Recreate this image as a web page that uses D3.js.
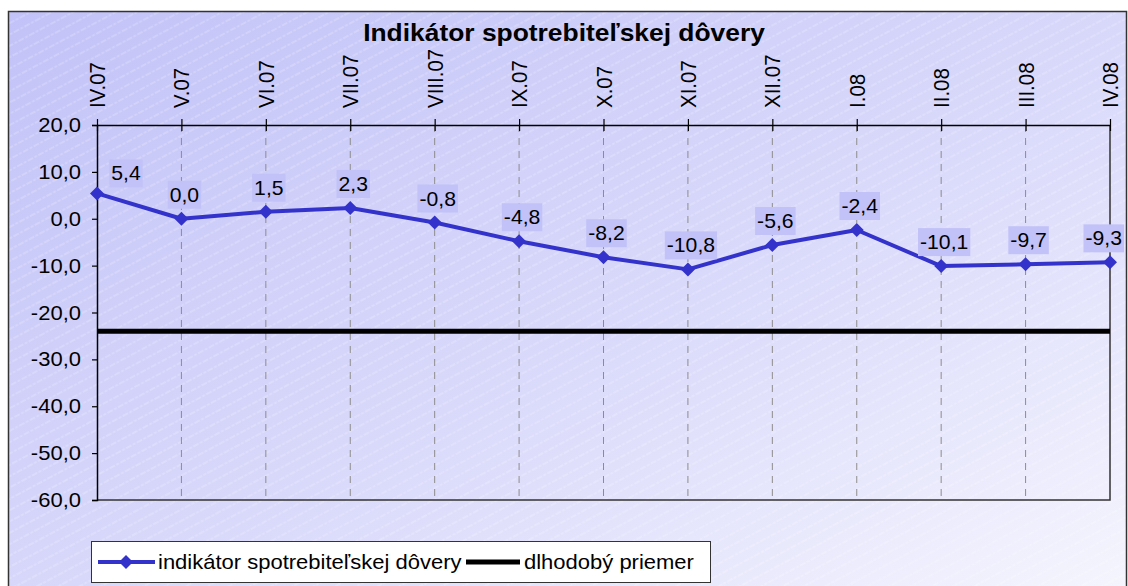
<!DOCTYPE html>
<html><head><meta charset="utf-8">
<script src="https://cdn.jsdelivr.net/npm/d3@7"></script>
<style>html,body{margin:0;padding:0;background:#fff;}svg{display:block;}</style>
</head><body>
<svg id="c" width="1128" height="586"></svg>
<script>
const categories = ["IV.07","V.07","VI.07","VII.07","VIII.07","IX.07","X.07","XI.07","XII.07","I.08","II.08","III.08","IV.08"];
const indicatorValues = [5.4, 0.0, 1.5, 2.3, -0.8, -4.8, -8.2, -10.8, -5.6, -2.4, -10.1, -9.7, -9.3];
const longTermMean = -24.0;
const yTicks = [20, 10, 0, -10, -20, -30, -40, -50, -60];
const title = "Indikátor spotrebiteľskej dôvery";
const seriesNames = ["indikátor spotrebiteľskej dôvery", "dlhodobý priemer"];

const FONT = "'Liberation Sans', Arial, sans-serif";
const SX = 1.1;
const fmt = v => v.toFixed(1).replace(".", ",");
const svg = d3.select("#c");
const defs = svg.append("defs");

function stext(parent, xx, yy, str, size, anchor, weight, sx) {
  const g = parent.append("g").attr("transform", `translate(${xx},${yy}) scale(${sx||SX},1)`);
  return g.append("text").attr("x",0).attr("y",0).attr("text-anchor",anchor||"start")
    .attr("font-family",FONT).attr("font-size",size).attr("font-weight",weight||"normal")
    .attr("fill","#000").text(str);
}

const grad = defs.append("linearGradient").attr("id","bg").attr("x1","0").attr("y1","0").attr("x2","1").attr("y2","1");
grad.append("stop").attr("offset","0").attr("stop-color","#c2c2f8");
grad.append("stop").attr("offset","0.55").attr("stop-color","#dadafb");
grad.append("stop").attr("offset","1").attr("stop-color","#f6f6fe");

const pat = defs.append("pattern").attr("id","hatch").attr("patternUnits","userSpaceOnUse")
  .attr("width",12).attr("height",10).attr("patternTransform","rotate(-28)");
pat.append("line").attr("x1",0).attr("y1",5).attr("x2",12).attr("y2",5)
  .attr("stroke","#ffffff").attr("stroke-opacity",0.45).attr("stroke-width",0.8).attr("stroke-dasharray","3,1.5");

// frame
svg.append("rect").attr("x",8.5).attr("y",11.5).attr("width",1118).attr("height",600).attr("fill","url(#bg)");
svg.append("rect").attr("x",8.5).attr("y",11.5).attr("width",1118).attr("height",600).attr("fill","url(#hatch)")
  .attr("stroke","#333").attr("stroke-width",1.5);

// title
stext(svg, 564, 41, title, 24, "middle", "bold");

const x = d3.scalePoint().domain(categories).range([97,1110]);
const y = d3.scaleLinear().domain([-60,20]).range([500,125]);

// gridlines
svg.append("g").selectAll("line").data(categories.slice(1,-1)).join("line")
  .attr("x1",d=>x(d)).attr("x2",d=>x(d)).attr("y1",y(20)).attr("y2",y(-60))
  .attr("stroke","#8c8c8c").attr("stroke-width",1).attr("stroke-dasharray","7,6");

// plot border (right, bottom)
svg.append("path").attr("d",`M${x(categories[categories.length-1])},${y(20)}V${y(-60)}H${x(categories[0])}`)
  .attr("fill","none").attr("stroke","#333").attr("stroke-width",1.5);

// y axis
const yAxis = d3.axisLeft(y).tickValues(yTicks).tickFormat("").tickSize(5);
const gy = svg.append("g").attr("transform",`translate(${x(categories[0])},0)`).call(yAxis);
gy.select(".domain").attr("stroke","#000").attr("stroke-width",1.5);
gy.selectAll(".tick line").attr("stroke","#000").attr("stroke-width",1.2);
const gyl = svg.append("g");
yTicks.forEach(v => stext(gyl, 81, y(v), fmt(v), 20, "end").attr("dy","0.35em"));

// x axis (top)
const xAxis = d3.axisTop(x).tickSizeInner(6).tickSizeOuter(0).tickFormat("");
const gx = svg.append("g").attr("transform",`translate(0,${y(20)})`).call(xAxis);
gx.select(".domain").attr("stroke","#000").attr("stroke-width",1.5);
gx.selectAll(".tick line").attr("stroke","#000").attr("stroke-width",1.2).attr("y1",6).attr("y2",-6);
svg.append("g").selectAll("g").data(categories).join("g")
  .attr("transform",d=>`translate(${x(d)},108) rotate(-90) scale(1,1.12)`)
  .append("text").attr("dy","0.35em").attr("text-anchor","start")
  .attr("font-family",FONT).attr("font-size",20.5).text(d=>d);

// long-term mean
svg.append("line").attr("x1",x(categories[0])).attr("x2",x(categories[categories.length-1]))
  .attr("y1",y(longTermMean)).attr("y2",y(longTermMean)).attr("stroke","#000").attr("stroke-width",5);

// series line
const pts = categories.map((c,i)=>({c, v: indicatorValues[i], i}));
svg.append("path").datum(pts).attr("fill","none").attr("stroke","#3333cc").attr("stroke-width",4)
  .attr("stroke-linejoin","round")
  .attr("d", d3.line().x(d=>x(d.c)).y(d=>y(d.v)));
const diamond = "M0,-7L7,0L0,7L-7,0Z";
svg.append("g").selectAll("path").data(pts).join("path")
  .attr("transform",d=>`translate(${x(d.c)},${y(d.v)})`).attr("d",diamond).attr("fill","#3333cc");

// data labels
const lg = svg.append("g");
const LSX = 1.06;
pts.forEach(d=>{
  let cx = d.i===0 ? x(d.c)+29 : x(d.c)+3;
  const bottom = d.i===0 ? y(d.v)-6 : y(d.v)-10;
  const grp = lg.append("g");
  const t = stext(grp, 0, 0, fmt(d.v), 20, "middle", "normal", LSX);
  const w = t.node().getBBox().width * LSX + 4;
  if (cx + w/2 > 1124) cx = 1124 - w/2;
  grp.select("g").attr("transform",`translate(${cx},${bottom-7}) scale(${LSX},1)`);
  grp.insert("rect",":first-child").attr("x",cx-w/2).attr("y",bottom-28).attr("width",w).attr("height",28)
    .attr("fill","#c2c2f8");
});

// legend
const leg = svg.append("g");
leg.append("rect").attr("x",91.5).attr("y",541.5).attr("width",619).attr("height",41)
  .attr("fill","#fff").attr("stroke","#333").attr("stroke-width",1);
leg.append("line").attr("x1",98).attr("x2",155).attr("y1",562).attr("y2",562).attr("stroke","#3333cc").attr("stroke-width",4);
leg.append("path").attr("transform","translate(126,562)").attr("d",diamond).attr("fill","#3333cc");
stext(leg, 158, 569, seriesNames[0], 20, "start");
leg.append("line").attr("x1",466).attr("x2",520).attr("y1",562).attr("y2",562).attr("stroke","#000").attr("stroke-width",5);
stext(leg, 524, 569, seriesNames[1], 20, "start");
</script>
</body></html>
